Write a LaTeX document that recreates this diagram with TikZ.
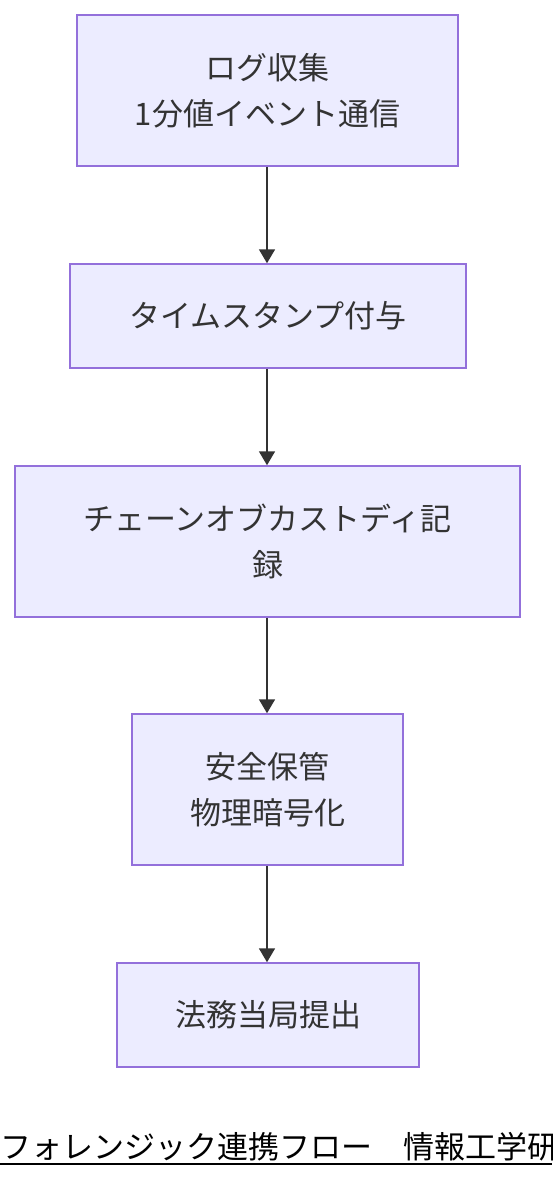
\documentclass[tikz,border=0pt]{standalone}
\usepackage{fontspec}
\setmainfont{Noto Sans CJK JP}
\definecolor{boxfill}{HTML}{ECECFF}
\definecolor{boxline}{HTML}{9370DB}
\definecolor{ink}{HTML}{333333}
\usetikzlibrary{arrows.meta}
\begin{document}
\begin{tikzpicture}[x=1pt,y=-1pt,
  flowbox/.style={draw=boxline,fill=boxfill,line width=1.5pt,text=ink,align=center,
    font=\fontsize{31}{46}\selectfont,inner sep=0pt},
  flowarrow/.style={draw=ink,line width=1.8pt,-{Triangle[length=14pt,width=16pt]}}]
\useasboundingbox (0,0) rectangle (552,1180);
\node[flowbox,minimum width=381pt,minimum height=151pt] (log) at (267.5,90.5) {ログ収集\\1分値イベント通信};
\node[flowbox,minimum width=396pt,minimum height=104pt] (stamp) at (268,316) {タイムスタンプ付与};
\node[flowbox,minimum width=505pt,minimum height=151pt] (custody) at (267.5,541.5) {チェーンオブカストディ記\\録};
\node[flowbox,minimum width=271pt,minimum height=151pt] (vault) at (267.5,789.5) {安全保管\\物理暗号化};
\node[flowbox,minimum width=302pt,minimum height=104pt] (court) at (268,1015) {法務当局提出};
\draw[flowarrow] (log.south -| 267,0) -- (stamp.north -| 267,0);
\draw[flowarrow] (stamp.south -| 267,0) -- (custody.north -| 267,0);
\draw[flowarrow] (custody.south -| 267,0) -- (vault.north -| 267,0);
\draw[flowarrow] (vault.south -| 267,0) -- (court.north -| 267,0);
% caption
\node[anchor=base west,inner sep=0pt,font=\fontsize{31}{33}\selectfont] (caption) at (0,1158) {フォレンジック連携フロー　情報工学研};
\coordinate (capend) at (552,1164);
\draw[line width=1.8pt] (0,1164) -- (capend);
\end{tikzpicture}
\end{document}
